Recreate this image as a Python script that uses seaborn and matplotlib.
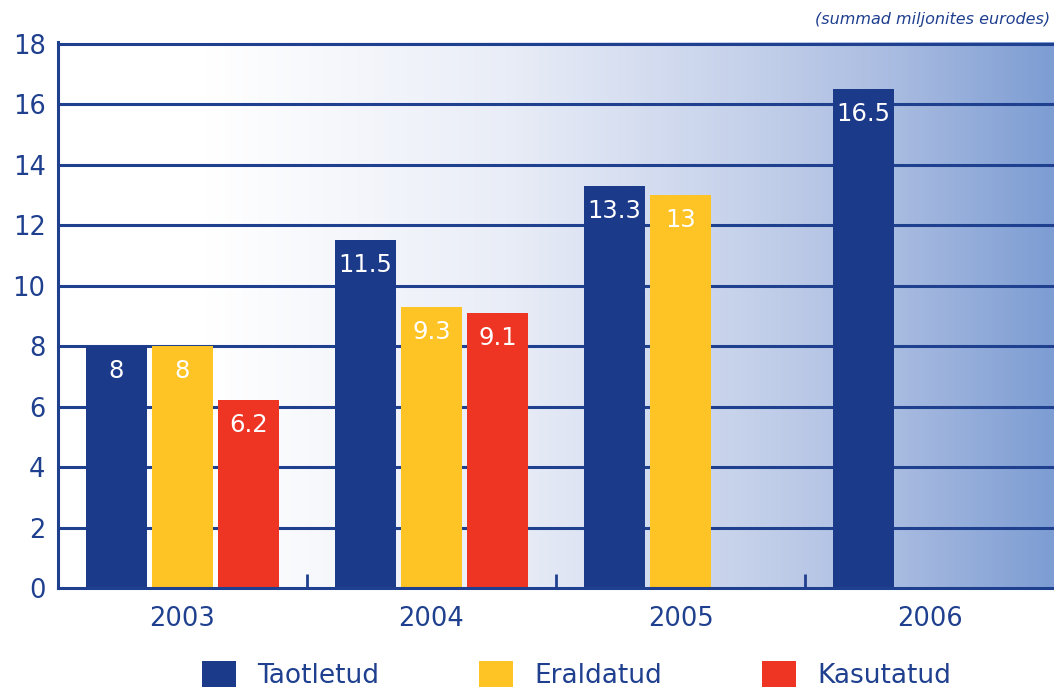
import numpy as np
import pandas as pd
import matplotlib
matplotlib.use("Agg")
import matplotlib.pyplot as plt
from matplotlib.colors import LinearSegmentedColormap
from matplotlib.patches import Patch
import seaborn as sns

years = ["2003", "2004", "2005", "2006"]
series = ["Taotletud", "Eraldatud", "Kasutatud"]
taotletud = [8, 11.5, 13.3, 16.5]
eraldatud = [8, 9.3, 13, None]
kasutatud = [6.2, 9.1, None, None]
yticks = [0, 2, 4, 6, 8, 10, 12, 14, 16, 18]
note = "(summad miljonites eurodes)"

colors = ["#1c3a8a", "#fec325", "#ee3524"]
txt = "#1f3f8f"

rows = []
for s, vals in zip(series, [taotletud, eraldatud, kasutatud]):
    for y, v in zip(years, vals):
        if v is not None:
            rows.append({"year": y, "series": s, "value": v})
df = pd.DataFrame(rows)

sns.set_style("white")
plt.rcParams["font.family"] = ["DejaVu Sans"]

fig = plt.figure(figsize=(10.54, 6.91), dpi=100)
ax = fig.add_axes([58/1054, 1-588/691, 1-58/1054, (588-42)/691])

# gradient background
cmap = LinearSegmentedColormap.from_list(
    "bg", [(0, "#ffffff"), (0.15, "#ffffff"), (0.45, "#e9edf7"),
           (0.7, "#c4d0ea"), (0.85, "#a7bae0"), (1.0, "#7d9dd3")])
grad = np.linspace(0, 1, 512).reshape(1, -1)
ax.imshow(grad, extent=[-0.5, 3.5, 0, 18.05], aspect="auto", cmap=cmap,
          zorder=0, interpolation="bicubic")

sns.barplot(data=df, x="year", y="value", hue="series", hue_order=series,
            order=years, palette=colors, width=0.8, gap=0.08, ax=ax,
            legend=False, saturation=1, zorder=3, edgecolor="none")

ax.set_xlim(-0.5, 3.5)
ax.set_ylim(0, 18.05)
ax.set_yticks(yticks)
ax.set_yticklabels([str(t) for t in yticks])
ax.set_xlabel("")
ax.set_ylabel("")

for y in yticks[1:]:
    ax.axhline(y, color=txt, lw=2.2, zorder=1)

for p in ax.patches:
    h = p.get_height()
    if np.isnan(h) or h <= 0:
        continue
    ax.annotate(f"{h:g}", (p.get_x() + p.get_width()/2, h),
                xytext=(0, -18), textcoords="offset points",
                ha="center", va="center", color="white", fontsize=17.5, zorder=5)

for side in ["top", "right"]:
    ax.spines[side].set_visible(False)
for side in ["left", "bottom"]:
    ax.spines[side].set_color(txt)
    ax.spines[side].set_linewidth(2.2)
    ax.spines[side].set_zorder(4)

ax.tick_params(axis="y", length=0, pad=9, labelsize=18.5, labelcolor=txt)
ax.tick_params(axis="x", which="major", length=0, pad=13, labelsize=18.5, labelcolor=txt)
ax.set_xticks([0.5, 1.5, 2.5], minor=True)
ax.tick_params(axis="x", which="minor", bottom=True, direction="in", length=10,
               width=2, color=txt)

fig.text(0.996, 0.972, note, ha="right", va="center", style="italic",
         fontsize=11.5, color=txt)

handles = [Patch(facecolor=c, edgecolor="none", label=s) for c, s in zip(colors, series)]
leg = fig.legend(handles=handles, loc="center", bbox_to_anchor=(0.547, 1-675/691),
                 ncol=3, frameon=False, fontsize=19, handlelength=1.29,
                 handleheight=1.14, handletextpad=0.8, columnspacing=3.8)
for t in leg.get_texts():
    t.set_color(txt)

fig.savefig("out.png", dpi=100)
